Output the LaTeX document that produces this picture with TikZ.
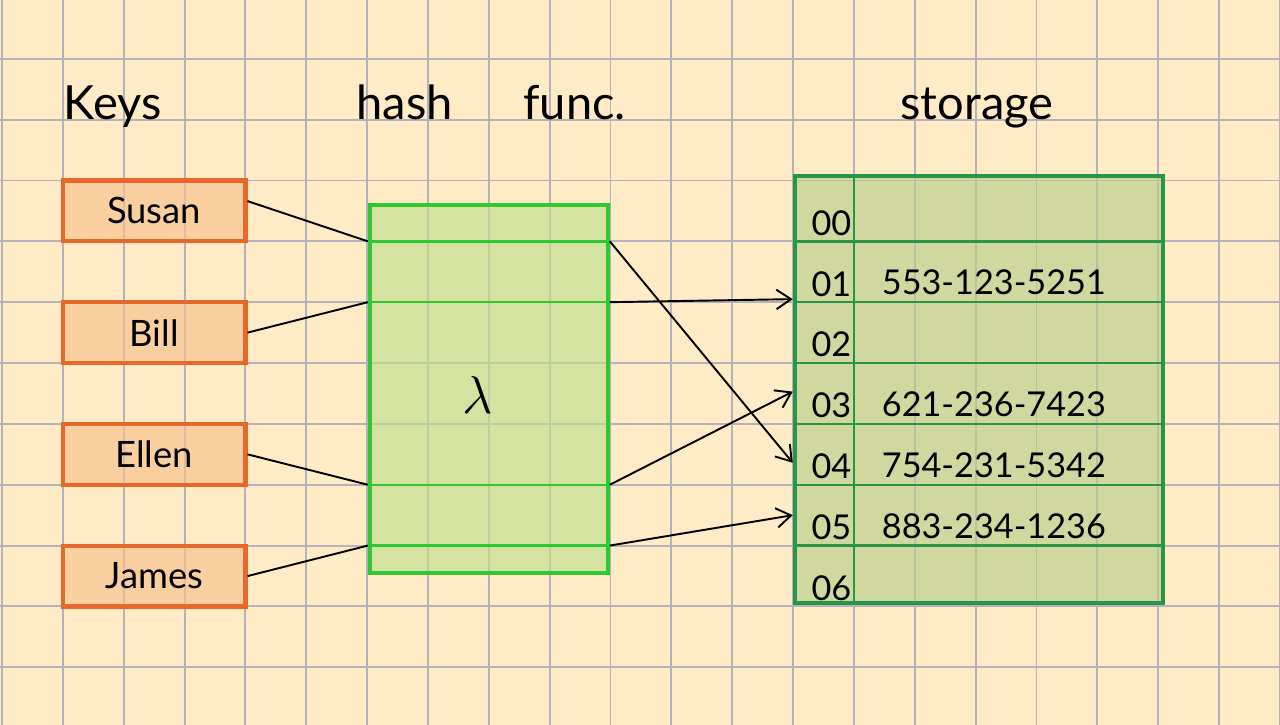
\documentclass[tikz,border=0pt]{standalone}
\usepackage{fontspec}
\setmainfont{Lato}
\usepackage{tikz}
\usetikzlibrary{arrows.meta,positioning}
\definecolor{papel}{RGB}{255,235,197}
\definecolor{rejilla}{RGB}{182,178,186}
\definecolor{naranja}{RGB}{232,103,42}
\definecolor{naranjaF}{RGB}{247,192,140}
\definecolor{verde}{RGB}{48,200,48}
\definecolor{verdeF}{RGB}{190,223,140}
\definecolor{verdeO}{RGB}{40,150,70}
\definecolor{verdeOF}{RGB}{183,206,140}

\begin{document}
\begin{tikzpicture}[
                node distance=9.3mm,
                rejillas/.style={rejilla, line width=0.9pt},
                titulo/.style={anchor=base, font=\fontsize{22}{26}\selectfont},
                clave/.style={rectangle, draw=naranja, fill=naranjaF, line width=2pt, fill opacity=0.65, text opacity=1,
                              minimum width=30mm, minimum height=10mm, font=\fontsize{17}{20}\selectfont},
                caja/.style={rectangle, draw=verde, fill=verdeF, line width=1.9pt, fill opacity=0.65},
                almacen/.style={rectangle, draw=verdeO, fill=verdeOF, line width=2pt, fill opacity=0.65},
                lineav/.style={verde, line width=1.1pt},
                celda/.style={verdeO, line width=1.1pt},
                indice/.style={anchor=base west, font=\fontsize{16}{18}\selectfont},
                numero/.style={anchor=base, font=\fontsize{16}{18}\selectfont},
                linea/.style={black, line width=0.9pt},
                flecha/.style={-{Straight Barb[length=2.4mm, width=3.2mm]}, black, line width=0.9pt}
            ]
            % papel cuadriculado
            \useasboundingbox (-0.033,-0.948) rectangle (21.002,10.966);
            \fill[papel] (-0.033,-0.948) rectangle (21.002,10.966);
            \draw[rejillas] (-0.033,-0.948) grid (21.002,10.966);

            % Titulos
            \node[titulo] (keys) at (1.82,9) {Keys};
            \node[titulo] (hashf) at (8.04,9) {hash\hspace{1.5em}func.};
            \node[titulo] (storage) at (16.02,9) {storage};

            % Keys
            \node[clave] (susan) at (2.5,7.5) {Susan};
            \node[clave, below=of susan] (bill) {Bill};
            \node[clave, below=of bill] (ellen) {Ellen};
            \node[clave, below=of ellen] (james) {James};

            % hash func.
            \node[caja, minimum width=39.1mm, minimum height=60.5mm] (hash) at (8.0,4.575) {};
            \node[font=\fontsize{30}{30}\selectfont] (lam) at (7.82,4.47) {$\lambda$};
            \foreach \y in {2,3,6,7} {
                \draw[lineav] (hash.west |- 0,\y) -- (hash.east |- 0,\y);
                \coordinate (hw\y) at (hash.west |- 0,\y);
                \coordinate (he\y) at (hash.east |- 0,\y);
            }

            % storage
            \node[almacen, minimum width=60.5mm, minimum height=70.1mm] (store) at (16.055,4.565) {};
            \draw[celda] (store.north -| 14,0) -- (store.south -| 14,0);
            \foreach \y in {2,...,7}
                \draw[celda] (store.west |- 0,\y) -- (store.east |- 0,\y);
            \foreach \i in {0,...,6}
                \node[indice] (idx\i) at (13.18,7.1-\i) {0\i};
            \foreach \i/\num in {1/553-123-5251, 3/621-236-7423, 4/754-231-5342, 5/883-234-1236}
                \node[numero] (tel\i) at (16.3,7.12-\i) {\num};
            \coordinate (s1) at (store.west |- 0,6.05);
            \coordinate (s3) at (store.west |- 0,4.53);
            \coordinate (s4) at (store.west |- 0,3.36);
            \coordinate (s5) at (store.west |- 0,2.50);

            % Keys -> hash
            \draw[linea] (susan.6) -- (hw7);
            \draw[linea] (bill.east) -- (hw6);
            \draw[linea] (ellen.east) -- (hw3);
            \draw[linea] (james.east) -- (hw2);

            % hash -> storage
            \draw[flecha] (he7) -- (s4);
            \draw[flecha] (he6) -- (s1);
            \draw[flecha] (he3) -- (s3);
            \draw[flecha] (he2) -- (s5);
        \end{tikzpicture}
\end{document}
